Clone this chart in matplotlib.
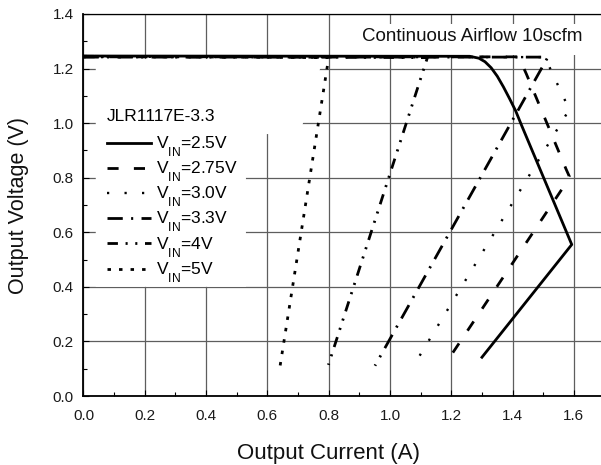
import matplotlib
matplotlib.use('Agg')
import matplotlib.pyplot as plt
import matplotlib._mathtext as _mt
from matplotlib.patches import Polygon, Rectangle
from matplotlib.ticker import MultipleLocator

plt.rcParams['font.family'] = ['Liberation Sans', 'DejaVu Sans']
plt.rcParams['mathtext.fontset'] = 'custom'
plt.rcParams['mathtext.rm'] = 'Liberation Sans'
plt.rcParams['mathtext.it'] = 'Liberation Sans:italic'
plt.rcParams['lines.scale_dashes'] = False
# subscripts in the reference sit well below the baseline
_mt.FontConstantsBase.sub1 = 0.9

# ---- data ----
x_25 = [0.0, 1.26, 1.29, 1.31, 1.33, 1.35, 1.37, 1.39, 1.41, 1.43, 1.593, 1.30]
y_25 = [1.246, 1.245, 1.238, 1.225, 1.203, 1.172, 1.133, 1.09, 1.045, 0.99, 0.555, 0.142]

x_275 = [0.0, 1.42, 1.445, 1.575, 1.585, 1.58, 1.198]
y_275 = [1.243, 1.243, 1.18, 0.83, 0.805, 0.79, 0.147]

x_30 = [0.0, 1.505, 1.585, 1.085]
y_30 = [1.242, 1.242, 1.05, 0.126]

x_33 = [0.0, 1.515, 0.951]
y_33 = [1.242, 1.242, 0.111]

x_4 = [0.0, 1.122, 0.799]
y_4 = [1.245, 1.24, 0.114]

x_5 = [0.0, 0.80, 0.639]
y_5 = [1.245, 1.24, 0.093]

labels = [r'V$_{\mathrm{IN}}$=2.5V', r'V$_{\mathrm{IN}}$=2.75V', r'V$_{\mathrm{IN}}$=3.0V',
          r'V$_{\mathrm{IN}}$=3.3V', r'V$_{\mathrm{IN}}$=4V', r'V$_{\mathrm{IN}}$=5V']
legend_title = 'JLR1117E-3.3'
note = 'Continuous Airflow 10scfm'
x_ticks = [0.0, 0.2, 0.4, 0.6, 0.8, 1.0, 1.2, 1.4, 1.6]
y_ticks = [0.0, 0.2, 0.4, 0.6, 0.8, 1.0, 1.2, 1.4]

W, H = 601, 465
fig = plt.figure(figsize=(W / 100, H / 100), dpi=100)
xmax = 1.7
ax_left, ax_bottom = 83.5 / W, (H - 396) / H
ax_h = (396 - 14) / H
ax_w = xmax * 306.5 / W
ax = fig.add_axes([ax_left, ax_bottom, ax_w, ax_h])
ax.set_xlim(0, xmax)
ax.set_ylim(0, 1.4)

ax.set_xticks(x_ticks)
ax.set_yticks(y_ticks)
ax.set_xticklabels([f'{v:.1f}' for v in x_ticks])
ax.set_yticklabels([f'{v:.1f}' for v in y_ticks])
ax.xaxis.set_minor_locator(MultipleLocator(0.1))
ax.yaxis.set_minor_locator(MultipleLocator(0.1))
ax.tick_params(which='both', direction='in', color='black', width=0.8)
ax.tick_params(which='major', length=4, labelsize=11, labelcolor='#1a1a1a')
ax.tick_params(which='minor', length=3)
ax.tick_params(axis='x', which='major', pad=9)
ax.tick_params(axis='y', which='major', pad=7)
ax.grid(True, which='major', color='#5e5e5e', linewidth=0.9, zorder=0)
ax.set_axisbelow(True)

for s in ['left', 'bottom']:
    ax.spines[s].set_linewidth(1.3)
ax.spines['top'].set_linewidth(0.9)
ax.spines['right'].set_visible(False)

# white areas hiding grid under legend and note
ax.add_patch(Polygon([(0.04, 1.235), (0.782, 1.235), (0.705, 0.96), (0.53, 0.96),
                      (0.53, 0.40), (0.04, 0.40)], closed=True, facecolor='white',
                     edgecolor='none', zorder=1))
ax.add_patch(Rectangle((0.85, 1.25), 1.0, 0.115, facecolor='white', edgecolor='none', zorder=1))

lw = 2.0
l1, = ax.plot(x_25, y_25, color='black', lw=2.0, ls='-', zorder=3)
l2, = ax.plot(x_275, y_275, color='black', lw=lw, ls=(0, (8, 11)), zorder=3)
l3, = ax.plot(x_30, y_30, color='black', lw=1.7, ls=(0, (1.6, 11)), zorder=3)
l4, = ax.plot(x_33, y_33, color='black', lw=lw, ls=(0, (11, 6, 1.5, 6)), zorder=3)
l5, = ax.plot(x_4, y_4, color='black', lw=lw, ls=(0, (7.5, 5.5, 1.5, 5.5, 1.5, 5.5)), zorder=3)
l6, = ax.plot(x_5, y_5, color='black', lw=lw, ls=(0, (2.5, 5.8)), zorder=3)

leg = ax.legend([l1, l2, l3, l4, l5, l6], labels, title=legend_title,
                loc='upper left', bbox_to_anchor=(0.077, 1.052), bbox_transform=ax.transData,
                frameon=False, fontsize=12.5, title_fontsize=12.5, borderpad=0,
                handlelength=2.5, handletextpad=0.3, labelspacing=0.06, alignment='left',
                borderaxespad=0)
leg._legend_box.sep = 7.9
leg.set_zorder(4)

ax.text((362 - 83.5) / 306.5, (396 - 41) / 272.8, note, fontsize=13.5,
        ha='left', va='baseline', color='#111111', zorder=4)

ax.set_xlabel('Output Current (A)', fontsize=16, color='#111111')
ax.set_ylabel('Output Voltage (V)', fontsize=15.5, color='#111111')
ax.xaxis.set_label_coords(0.8 / xmax, -(443 - 396) / (396 - 14))
ax.yaxis.set_label_coords(-(83.5 - 29) / (xmax * 306.5), 0.5)

fig.savefig('out.png', dpi=100)
